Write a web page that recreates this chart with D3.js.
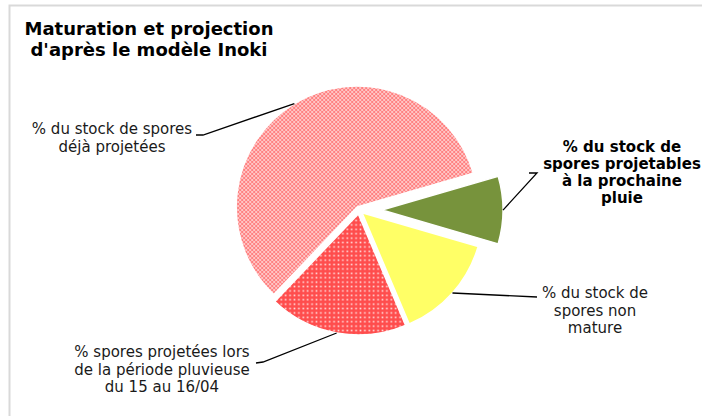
<!DOCTYPE html>
<html>
<head>
<meta charset="utf-8">
<script src="https://cdn.jsdelivr.net/npm/d3@7"></script>
<style>
  body { margin: 0; background: #fff; }
  svg { display: block; font-family: "DejaVu Sans", Verdana, sans-serif; }
</style>
</head>
<body>
<div id="chart"></div>
<script>
// slice data, clockwise from the first slice
var labels = [
  ["% du stock de spores", "déjà projetées"],
  ["% du stock de", "spores projetables", "à la prochaine", "pluie"],
  ["% du stock de", "spores non", "mature"],
  ["% spores projetées lors", "de la période pluvieuse", "du 15 au 16/04"]
];
var values = [58.4, 9.0, 14.1, 18.5];
var fills = ["url(#checks)", "#77933c", "#ffff66", "url(#dots)"];
var bold = [false, true, false, false];

var width = 702, height = 416;
var cx = 359, cy = 210, radius = 121;
var explode = [3.5, 23, 4, 4];
// label layout: text centre x, first baseline y, leader elbow
var labelPos = [
  {x: 112, y: 134, elbow: [[196, 135], [203, 135]]},
  {x: 622, y: 152, elbow: [[529, 173], [537, 173]]},
  {x: 595, y: 298, elbow: [[537, 297]]},
  {x: 162, y: 357, elbow: [[256, 363], [263, 362]]}
];

var svg = d3.select("#chart").append("svg")
    .attr("width", width)
    .attr("height", height);

var defs = svg.append("defs");
var checks = defs.append("pattern")
    .attr("id", "checks")
    .attr("patternUnits", "userSpaceOnUse")
    .attr("width", 4).attr("height", 4);
checks.append("rect").attr("width", 4).attr("height", 4).attr("fill", "#ffc6c6");
checks.append("rect").attr("width", 2).attr("height", 2).attr("fill", "#ff8080");
checks.append("rect").attr("x", 2).attr("y", 2).attr("width", 2).attr("height", 2).attr("fill", "#ff8080");

var dots = defs.append("pattern")
    .attr("id", "dots")
    .attr("patternUnits", "userSpaceOnUse")
    .attr("width", 4.4).attr("height", 4.4);
dots.append("rect").attr("width", 4.4).attr("height", 4.4).attr("fill", "#ff4d4d");
dots.append("rect").attr("x", 1.4).attr("y", 1.4).attr("width", 1.6).attr("height", 1.6).attr("fill", "#ffe0e0");

// chart area border (only top and left show in the frame)
svg.append("path")
    .attr("d", "M9.5,416V5.5H702")
    .attr("fill", "none")
    .attr("stroke", "#d9d9d9")
    .attr("stroke-width", 2);

// title
svg.append("text")
    .attr("x", 149)
    .attr("y", 35)
    .attr("text-anchor", "middle")
    .style("font-weight", "bold")
    .style("font-size", "18px")
    .selectAll("tspan")
    .data(["Maturation et projection", "d'après le modèle Inoki"])
    .join("tspan")
      .attr("x", 149)
      .attr("dy", (d, i) => i ? 21 : 0)
      .text(d => d);

var pie = d3.pie()
    .sort(null)
    .startAngle(223.6 * Math.PI / 180)
    .endAngle((223.6 + 360) * Math.PI / 180);

var arcs = pie(values);
var arc = d3.arc().innerRadius(0).outerRadius(radius);
var edge = d3.arc().innerRadius(radius).outerRadius(radius);

function offset(d, i) {
  var a = (d.startAngle + d.endAngle) / 2;
  return [cx + explode[i] * Math.sin(a), cy - explode[i] * Math.cos(a)];
}

svg.append("g")
  .selectAll("path")
  .data(arcs)
  .join("path")
    .attr("transform", (d, i) => "translate(" + offset(d, i) + ")")
    .attr("d", arc)
    .attr("fill", (d, i) => fills[i])
    .attr("stroke", "#fff")
    .attr("stroke-width", 1.5);

// leader lines
svg.append("g")
  .selectAll("polyline")
  .data(arcs)
  .join("polyline")
    .attr("points", function (d, i) {
      var o = offset(d, i), c = edge.centroid(d);
      var start = [o[0] + c[0], o[1] + c[1]];
      return [start].concat(labelPos[i].elbow.slice().reverse()).map(p => p.join(",")).join(" ");
    })
    .attr("fill", "none")
    .attr("stroke", "#000")
    .attr("stroke-width", 1.3);

// labels
var lab = svg.append("g")
  .selectAll("text")
  .data(labels)
  .join("text")
    .attr("x", (d, i) => labelPos[i].x)
    .attr("y", (d, i) => labelPos[i].y)
    .attr("text-anchor", "middle")
    .attr("fill", (d, i) => bold[i] ? "#000" : "#1a1a1a")
    .style("font-size", "15px")
    .style("font-weight", (d, i) => bold[i] ? "bold" : "normal");

lab.each(function (d, i) {
  d3.select(this).selectAll("tspan")
    .data(d)
    .join("tspan")
      .attr("x", labelPos[i].x)
      .attr("dy", (t, j) => j ? (bold[i] ? 17 : 17.5) : 0)
      .text(t => t);
});
</script>
</body>
</html>
